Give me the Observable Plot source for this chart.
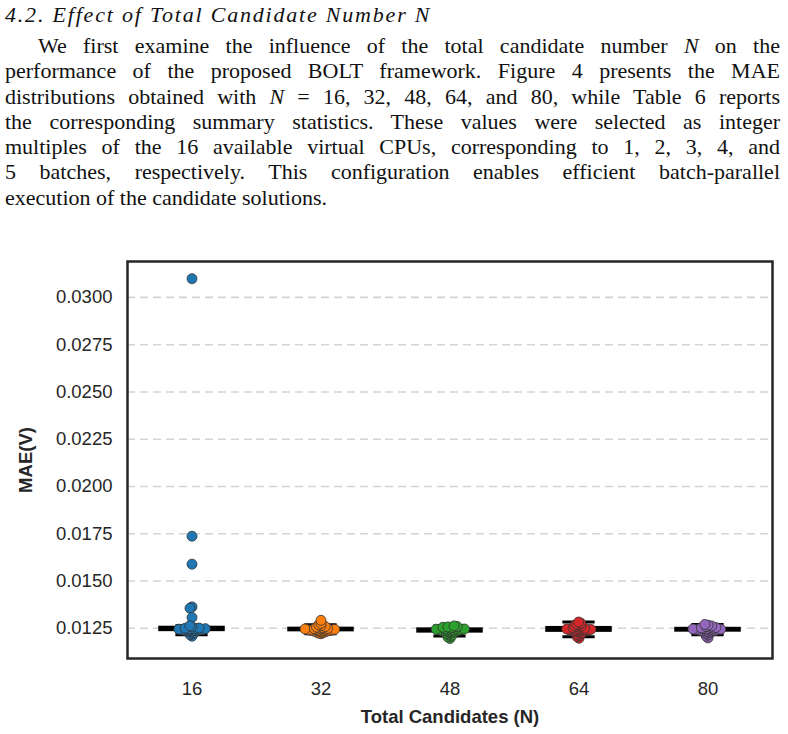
<!DOCTYPE html>
<html>
<head>
<meta charset="utf-8">
<script src="https://cdn.jsdelivr.net/npm/d3@7"></script>
<script src="https://cdn.jsdelivr.net/npm/@observablehq/plot@0.6"></script>
<style>
  html, body { margin: 0; padding: 0; background: #fff; }
  body { width: 788px; height: 734px; overflow: hidden; position: relative; }
  #text { position: absolute; left: 5px; top: 0; width: 775px; font-family: "Liberation Serif", "Times New Roman", serif; font-size: 22px; color: #111; }
  #text .h { font-style: italic; line-height: 25px; height: 25px; margin-top: 2px; margin-bottom: 6px; letter-spacing: 1.8px; white-space: nowrap; }
  #text .l { line-height: 25.3px; height: 25.3px; text-align: justify; text-align-last: justify; }
  #text .l.first { padding-left: 33px; }
  #text .l.last { text-align-last: left; }
  #chart { position: absolute; left: 0; top: 240px; }
</style>
</head>
<body>
<div id="text">
  <div class="h">4.2. Effect of Total Candidate Number N</div>
  <div class="l first">We first examine the influence of the total candidate number <i>N</i> on the</div>
  <div class="l">performance of the proposed BOLT framework. Figure 4 presents the MAE</div>
  <div class="l">distributions obtained with <i>N</i> = 16, 32, 48, 64, and 80, while Table 6 reports</div>
  <div class="l">the corresponding summary statistics. These values were selected as integer</div>
  <div class="l">multiples of the 16 available virtual CPUs, corresponding to 1, 2, 3, 4, and</div>
  <div class="l">5 batches, respectively. This configuration enables efficient batch-parallel</div>
  <div class="l last">execution of the candidate solutions.</div>
</div>
<div id="chart"></div>
<script>
// Total candidate numbers compared, one strip per setting
const groups = ["16", "32", "48", "64", "80"];
const palette = ["#1f77b4", "#ff7f0e", "#2ca02c", "#d62728", "#9467bd"];

// MAE (V) of each run, per candidate number
const mae16 = [0.03099, 0.01737, 0.01589, 0.01363, 0.01356, 0.01307,
  0.01208, 0.01216, 0.01222, 0.01227, 0.01231, 0.01234, 0.01236, 0.01237, 0.01238, 0.01239,
  0.01240, 0.01241, 0.01242, 0.01243, 0.01244, 0.01245, 0.01246, 0.01247, 0.01248, 0.01249,
  0.01250, 0.01251, 0.01257, 0.01263];
const mae32 = [0.01221, 0.01224, 0.01227, 0.01230, 0.01232, 0.01234, 0.01235, 0.01236, 0.01237, 0.01238,
  0.01239, 0.01240, 0.01240, 0.01241, 0.01242, 0.01243, 0.01244, 0.01245, 0.01246, 0.01247,
  0.01248, 0.01249, 0.01251, 0.01253, 0.01256, 0.01259, 0.01263, 0.01268, 0.01276, 0.01292];
const mae48 = [0.01196, 0.01203, 0.01209, 0.01214, 0.01219, 0.01223, 0.01226, 0.01229, 0.01231, 0.01233,
  0.01235, 0.01236, 0.01237, 0.01238, 0.01239, 0.01240, 0.01241, 0.01242, 0.01243, 0.01244,
  0.01245, 0.01246, 0.01247, 0.01249, 0.01251, 0.01253, 0.01255, 0.01257, 0.01259, 0.01262];
const mae64 = [0.01197, 0.01205, 0.01212, 0.01218, 0.01223, 0.01227, 0.01230, 0.01233, 0.01235, 0.01237,
  0.01238, 0.01239, 0.01240, 0.01241, 0.01242, 0.01243, 0.01244, 0.01245, 0.01246, 0.01248,
  0.01250, 0.01252, 0.01255, 0.01258, 0.01261, 0.01264, 0.01268, 0.01272, 0.01277, 0.01283];
const mae80 = [0.01199, 0.01208, 0.01215, 0.01221, 0.01226, 0.01229, 0.01232, 0.01234, 0.01236, 0.01237,
  0.01238, 0.01239, 0.01240, 0.01241, 0.01242, 0.01243, 0.01244, 0.01245, 0.01246, 0.01247,
  0.01248, 0.01249, 0.01250, 0.01252, 0.01254, 0.01256, 0.01259, 0.01262, 0.01266, 0.01270];

const yTicks = [0.0125, 0.0150, 0.0175, 0.0200, 0.0225, 0.0250, 0.0275, 0.0300];

const series = [mae16, mae32, mae48, mae64, mae80];
const runs = groups.flatMap((N, i) => series[i].map((mae) => ({N, mae})));

// Box statistics (Tukey whiskers at 1.5 × IQR)
const boxes = groups.map((N, i) => {
  const s = series[i].slice().sort(d3.ascending);
  const q1 = d3.quantile(s, 0.25), med = d3.quantile(s, 0.5), q3 = d3.quantile(s, 0.75);
  const iqr = q3 - q1;
  const lo = d3.min(s.filter((v) => v >= q1 - 1.5 * iqr));
  const hi = d3.max(s.filter((v) => v <= q3 + 1.5 * iqr));
  return {N, q1, med, q3, lo, hi};
});

const chart = Plot.plot({
  width: 788,
  height: 494,
  marginTop: 21,
  marginBottom: 76,
  marginLeft: 125,
  marginRight: 15,
  style: {fontFamily: "'Liberation Sans', Arial, sans-serif", fontSize: "18.5px", color: "#262626", background: "white"},
  fx: {domain: groups, padding: 0, label: null, axis: "bottom", tickSize: 0, tickPadding: 23},
  x: {domain: [0, 1], axis: null},
  y: {domain: [0.0109, 0.0319], ticks: yTicks, tickFormat: ".4f", tickSize: 0, tickPadding: 15, label: null},
  color: {domain: groups, range: palette},
  marks: [
    // dashed horizontal grid, repeated in each candidate panel
    Plot.ruleY(yTicks, {stroke: "#d4d4d4", strokeWidth: 1.6, strokeDasharray: "8,5"}),
    Plot.ruleX(boxes, {fx: "N", x: 0.5, y1: "lo", y2: "hi", stroke: "black", strokeWidth: 2.5}),
    Plot.rect(boxes, {fx: "N", x1: 0.25, x2: 0.75, y1: "q1", y2: "q3", fill: "black", stroke: "black", strokeWidth: 2}),
    Plot.ruleY(boxes, {fx: "N", y: "lo", x1: 0.375, x2: 0.625, stroke: "black", strokeWidth: 3}),
    Plot.ruleY(boxes, {fx: "N", y: "hi", x1: 0.375, x2: 0.625, stroke: "black", strokeWidth: 3}),
    // runs piled sideways around each panel's centre; the layout radius is
    // smaller than the drawn one so that neighbouring dots overlap
    Plot.dot(runs, Plot.dodgeX({anchor: "middle", padding: 0, r: 1.2}, {
      fx: "N", y: "mae", r: 5, fill: "N", stroke: "#333", strokeWidth: 0.8
    })),
    Plot.frame({stroke: "#262626", strokeWidth: 2.5, facet: "super"}),
    Plot.text(["MAE(V)"], {frameAnchor: "left", textAnchor: "middle", rotate: -90, dx: -101, fontWeight: "bold", fill: "#262626", facet: "super"}),
    Plot.text(["Total Candidates (N)"], {frameAnchor: "bottom", dy: 64, fontWeight: "bold", fill: "#262626", facet: "super"})
  ]
});

document.getElementById("chart").append(chart);
</script>
</body>
</html>
